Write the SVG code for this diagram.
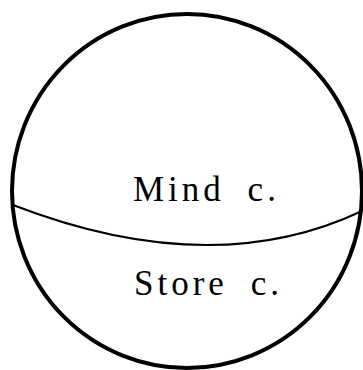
<svg xmlns="http://www.w3.org/2000/svg" width="363" height="370" viewBox="0 0 363 370">
<style>
.outline{fill:none;stroke:#000;stroke-width:4}
.div{fill:none;stroke:#000;stroke-width:2}
.lbl{font-family:"Liberation Serif","Times New Roman",serif;font-size:35px;fill:#000;letter-spacing:4px;word-spacing:10px}
</style>
<rect width="363" height="370" fill="#fff"/>
<g id="sphere">
<ellipse class="outline" cx="187" cy="191" rx="175" ry="177"/>
</g>
<g id="connectors">
<path class="div" d="M13,205 Q212,282 362,211"/>
</g>
<g id="mind">
<text class="lbl" x="133" y="201">Mind c.</text>
</g>
<g id="store">
<text class="lbl" x="134" y="295">Store c.</text>
</g>
</svg>
